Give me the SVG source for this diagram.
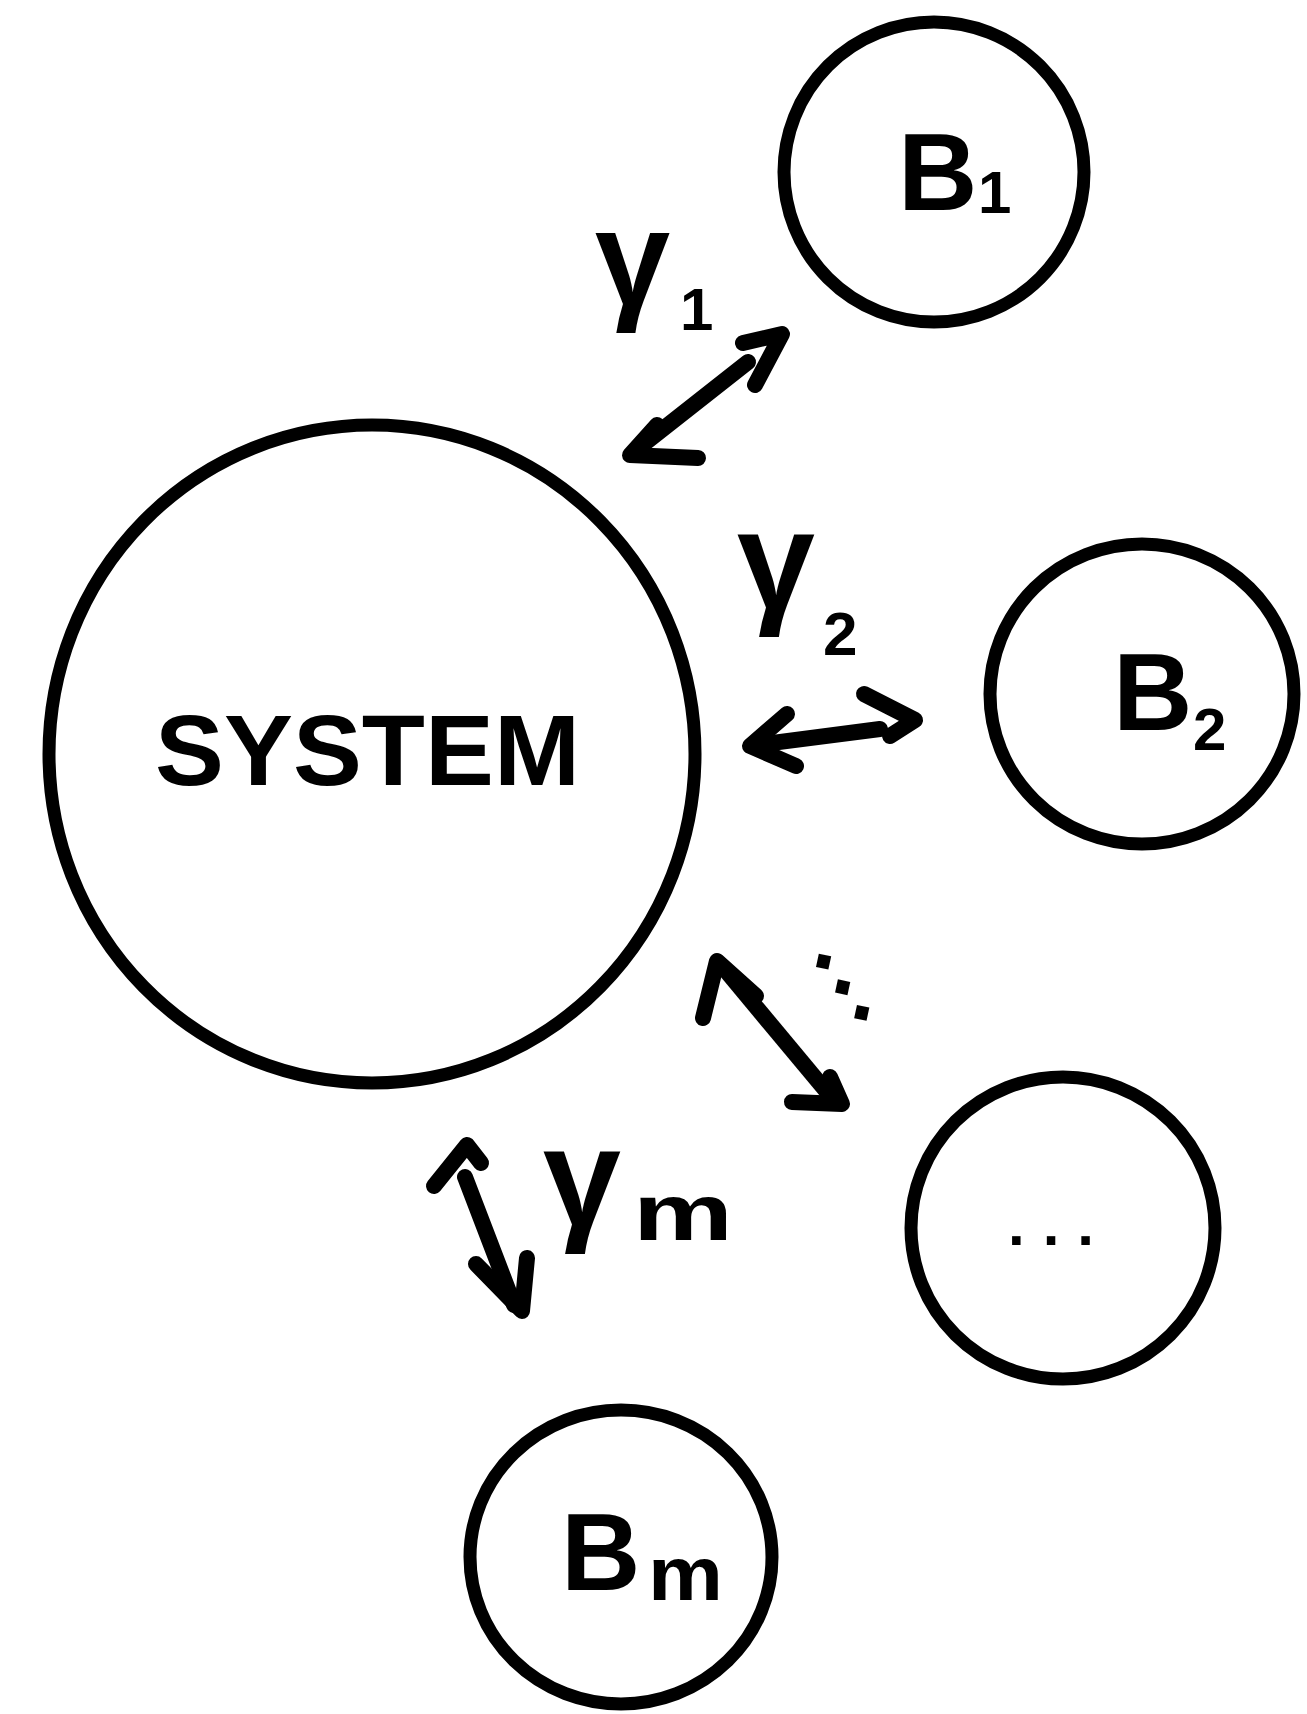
<svg xmlns="http://www.w3.org/2000/svg" width="1307" height="1714" viewBox="0 0 1307 1714">
<style>
.node{fill:none;stroke:#000;stroke-width:13}
.lbl{font-family:"Liberation Sans",Arial,sans-serif;font-weight:bold;fill:#000}
.arr{fill:none;stroke:#000;stroke-width:16;stroke-linecap:round;stroke-linejoin:round}
</style>
<rect width="1307" height="1714" fill="#fff"/>
<g id="system">
<ellipse class="node" cx="372" cy="754" rx="323" ry="329"/>
<text class="lbl" x="155" y="785" font-size="100" textLength="425" lengthAdjust="spacingAndGlyphs">SYSTEM</text>
</g>
<g id="b1">
<ellipse class="node" cx="934" cy="172" rx="150" ry="150"/>
<text class="lbl" x="898" y="210" font-size="110">B<tspan x="978" y="213" font-size="60">1</tspan></text>
</g>
<g id="b2">
<ellipse class="node" cx="1142" cy="694" rx="152" ry="150"/>
<text class="lbl" x="1113" y="730" font-size="110">B<tspan x="1193" y="750" font-size="60">2</tspan></text>
</g>
<g id="bdots">
<ellipse class="node" cx="1063" cy="1228" rx="152" ry="151"/>
<text class="lbl" x="1008" y="1245" font-size="60" letter-spacing="18">...</text>
</g>
<g id="bm">
<ellipse class="node" cx="621" cy="1557" rx="151" ry="147"/>
<text class="lbl" x="561" y="1590" font-size="110">B<tspan x="648" y="1600" font-size="76" textLength="75" lengthAdjust="spacingAndGlyphs">m</tspan></text>
</g>
<g id="connectors">
<path class="arr" d="M640,447 L748,362"/>
<polyline class="arr" points="657,425 630,455 698,458"/>
<polyline class="arr" points="743,343 782,334 755,385"/>
<path class="arr" d="M756,745 L880,729"/>
<polyline class="arr" points="787,714 750,746 796,766"/>
<polyline class="arr" points="864,694 915,720 890,736"/>
<path class="arr" d="M722,966 L832,1098"/>
<polyline class="arr" points="703,1018 717,961 756,996"/>
<polyline class="arr" points="830,1077 842,1104 792,1102"/>
<path class="arr" d="M465,1177 L514,1305"/>
<polyline class="arr" points="434,1186 467,1145 481,1163"/>
<polyline class="arr" points="476,1264 522,1311 527,1258"/>
</g>
<g id="labels">
<text class="lbl" x="595" y="305" font-size="135">γ<tspan x="680" y="330" font-size="60">1</tspan></text>
<text class="lbl" x="737" y="608" font-size="140">γ<tspan x="823" y="655" font-size="62">2</tspan></text>
<text class="lbl" x="543" y="1225" font-size="140">γ<tspan x="633" y="1240" font-size="80" textLength="100" lengthAdjust="spacingAndGlyphs">m</tspan></text>
<text x="807" y="1012" font-family="DejaVu Sans,sans-serif" font-weight="bold" font-size="72" fill="#000" transform="rotate(12 842 986)">⋱</text>
</g>
</svg>
